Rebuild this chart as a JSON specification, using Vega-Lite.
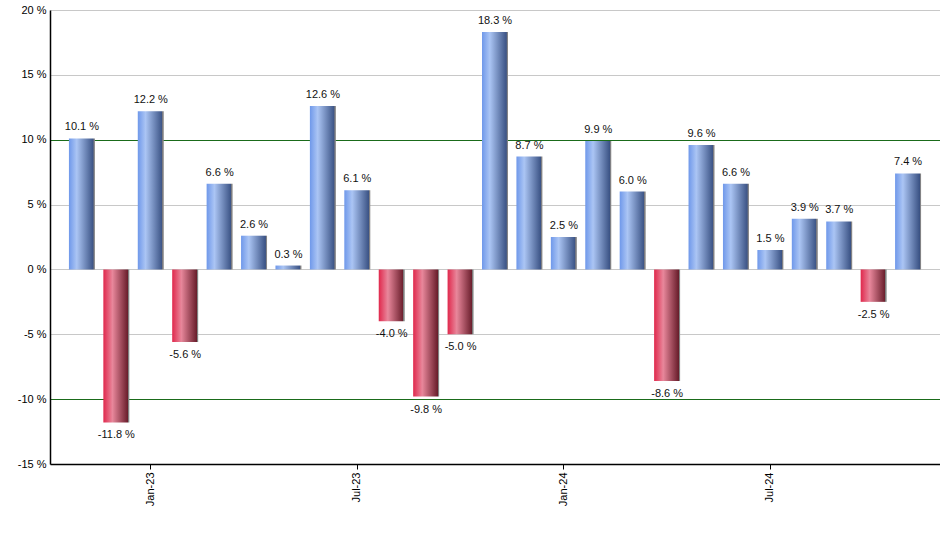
{
  "$schema": "https://vega.github.io/schema/vega-lite/v6.json",
  "width": 890,
  "height": 454,
  "autosize": "none",
  "padding": {"left": 50, "top": 10, "right": 0, "bottom": 86},
  "background": "white",
  "config": {"view": {"stroke": null}, "font": "Liberation Sans"},
  "data": {
    "values": [
      {"month": "Nov-22", "v": 10.1},
      {"month": "Dec-22", "v": -11.8},
      {"month": "Jan-23", "v": 12.2},
      {"month": "Feb-23", "v": -5.6},
      {"month": "Mar-23", "v": 6.6},
      {"month": "Apr-23", "v": 2.6},
      {"month": "May-23", "v": 0.3},
      {"month": "Jun-23", "v": 12.6},
      {"month": "Jul-23", "v": 6.1},
      {"month": "Aug-23", "v": -4.0},
      {"month": "Sep-23", "v": -9.8},
      {"month": "Oct-23", "v": -5.0},
      {"month": "Nov-23", "v": 18.3},
      {"month": "Dec-23", "v": 8.7},
      {"month": "Jan-24", "v": 2.5},
      {"month": "Feb-24", "v": 9.9},
      {"month": "Mar-24", "v": 6.0},
      {"month": "Apr-24", "v": -8.6},
      {"month": "May-24", "v": 9.6},
      {"month": "Jun-24", "v": 6.6},
      {"month": "Jul-24", "v": 1.5},
      {"month": "Aug-24", "v": 3.9},
      {"month": "Sep-24", "v": 3.7},
      {"month": "Oct-24", "v": -2.5},
      {"month": "Nov-24", "v": 7.4}
    ]
  },
  "transform": [{"calculate": "replace(format(datum.v, '.1f'), '\u2212', '-') + ' %'", "as": "label"}],
  "encoding": {
    "x": {
      "field": "month",
      "type": "ordinal",
      "sort": null,
      "scale": {
        "domain": ["Nov-22", "Dec-22", "Jan-23", "Feb-23", "Mar-23", "Apr-23", "May-23", "Jun-23", "Jul-23", "Aug-23", "Sep-23", "Oct-23", "Nov-23", "Dec-23", "Jan-24", "Feb-24", "Mar-24", "Apr-24", "May-24", "Jun-24", "Jul-24", "Aug-24", "Sep-24", "Oct-24", "Nov-24"],
        "paddingInner": 0.245,
        "paddingOuter": 0.55
      },
      "axis": {
        "title": null,
        "values": ["Jan-23", "Jul-23", "Jan-24", "Jul-24"],
        "labelAngle": -90,
        "labelFontSize": 11,
        "labelColor": "#000000",
        "labelPadding": 3,
        "tickColor": "#000000",
        "tickSize": 5,
        "domainColor": "#000000",
        "domainWidth": 1.5,
        "grid": false
      }
    },
    "y": {
      "field": "v",
      "type": "quantitative",
      "scale": {"domain": [-15, 20], "nice": false, "zero": false},
      "axis": {
        "title": null,
        "values": [-15, -10, -5, 0, 5, 10, 15, 20],
        "labelExpr": "datum.value + ' %'",
        "labelFontSize": 11,
        "labelColor": "#000000",
        "labelPadding": 4,
        "ticks": false,
        "domainColor": "#000000",
        "domainWidth": 1.5,
        "grid": true,
        "gridColor": {"condition": {"test": "abs(datum.value) == 10", "value": "#1a6b1a"}, "value": "#c8c8c8"}
      }
    }
  },
  "layer": [
    {
      "transform": [{"filter": "datum.v >= 0"}],
      "mark": {
        "type": "bar",
        "color": {
          "gradient": "linear",
          "x1": 0, "y1": 0, "x2": 1, "y2": 0,
          "stops": [
            {"offset": 0, "color": "#6f98ea"},
            {"offset": 0.3, "color": "#abc5f4"},
            {"offset": 0.94, "color": "#3b5385"},
            {"offset": 0.95, "color": "#7a7a80"},
            {"offset": 1, "color": "#8a8a8a"}
          ]
        }
      },
      "encoding": {"y2": {"datum": 0}}
    },
    {
      "transform": [{"filter": "datum.v < 0"}],
      "mark": {
        "type": "bar",
        "color": {
          "gradient": "linear",
          "x1": 0, "y1": 0, "x2": 1, "y2": 0,
          "stops": [
            {"offset": 0, "color": "#e0284c"},
            {"offset": 0.35, "color": "#e8879b"},
            {"offset": 0.94, "color": "#6a1e2c"},
            {"offset": 0.95, "color": "#7a7a7a"},
            {"offset": 1, "color": "#8a8a8a"}
          ]
        }
      },
      "encoding": {"y2": {"datum": 0}}
    },
    {
      "transform": [{"filter": "datum.v >= 0"}],
      "mark": {"type": "text", "baseline": "alphabetic", "dy": -8, "fontSize": 11, "color": "#111111"},
      "encoding": {"text": {"field": "label"}}
    },
    {
      "transform": [{"filter": "datum.v < 0"}],
      "mark": {"type": "text", "baseline": "top", "dy": 7, "fontSize": 11, "color": "#111111"},
      "encoding": {"text": {"field": "label"}}
    }
  ]
}
